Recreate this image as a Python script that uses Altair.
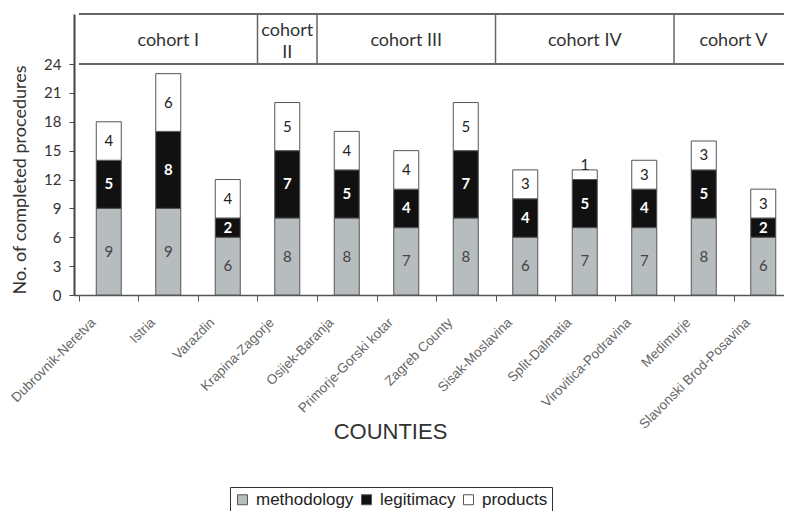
import altair as alt
import pandas as pd

# ---- data ----
counties = ["Dubrovnik-Neretva", "Istria", "Varazdin", "Krapina-Zagorje",
            "Osijek-Baranja", "Primorje-Gorski kotar", "Zagreb County",
            "Sisak-Moslavina", "Split-Dalmatia", "Virovitica-Podravina",
            "Medimurje", "Slavonski Brod-Posavina"]
methodology = [9, 9, 6, 8, 8, 7, 8, 6, 7, 7, 8, 6]
legitimacy = [5, 8, 2, 7, 5, 4, 7, 4, 5, 4, 5, 2]
products = [4, 6, 4, 5, 4, 4, 5, 3, 1, 3, 3, 3]
series = ["methodology", "legitimacy", "products"]
series_colors = ["#b7bcbf", "#111111", "#ffffff"]
cohorts = ["cohort I", "cohort\nII", "cohort III", "cohort IV", "cohort V"]
cohort_sizes = [3, 1, 3, 3, 2]
y_ticks = [0, 3, 6, 9, 12, 15, 18, 21, 24]

# ---- tables built from the arrays ----
rows = []
for i, c in enumerate(counties):
    base = 0
    for s, vals in zip(series, [methodology, legitimacy, products]):
        v = vals[i]
        top = base + v
        ly = (base + top) / 2 if v >= 2 else top + 0.55
        rows.append({"county": c, "pos": i + 0.5, "series": s, "value": v,
                     "y0": base, "y1": top, "ly": ly})
        base = top
df = pd.DataFrame(rows)

hrows = []
start = 0
for name, n in zip(cohorts, cohort_sizes):
    hrows.append({"cohort": name, "s": start, "e": start + n, "m": start + n / 2,
                  "lines": name.count("\n") + 1})
    start += n
hdr = pd.DataFrame(hrows)

PAD_L = 66
VIEW_W = 710      # visible plot width (rest of the last band is cut off, as in the source)
RANGE_W = 724     # full width of the 12 bands
H = 281
YTOP = 29.2
n_c = len(counties)

yscale = alt.Scale(domain=[0, YTOP], nice=False, zero=True)
xscale = alt.Scale(domain=[0, n_c], range=[0, RANGE_W], nice=False, zero=False)

names_js = "[" + ",".join("'" + c + "'" for c in counties) + "]"
label_expr = "datum.value < %d ? %s[datum.value] : ''" % (n_c, names_js)

x_axis = alt.Axis(title="COUNTIES", values=list(range(n_c + 1)), labelExpr=label_expr,
                  labelAngle=-45, labelAlign="right", labelBaseline="middle",
                  labelFont="Liberation Sans", labelFontSize=13.5, labelColor="#666666",
                  labelPadding=19, labelOffset=14, labelFlush=False, labelOverlap=False,
                  tickCount=20, tickSize=6, tickColor="#555555", domainColor="#555555",
                  domainWidth=1.5, grid=False,
                  titleFont="Liberation Sans", titleFontSize=22,
                  titleFontWeight="normal", titleColor="#333333",
                  titleX=316, titleY=136, titleBaseline="middle", titleAlign="center")

y_axis = alt.Axis(values=y_ticks, tickCount=9, title="No. of completed procedures",
                  titleFont="Lato", titleFontSize=18, titleFontWeight="normal",
                  titleColor="#333333", titleY=165.5, titleX=-54,
                  titleBaseline="middle", titleAlign="center", titleAngle=270,
                  labelFont="Lato", labelFontSize=15, labelColor="#333333",
                  labelPadding=8, labelOverlap=False, tickSize=5, tickColor="#444444",
                  domainColor="#444444", domainWidth=2, grid=False)

bars = alt.Chart(df).mark_bar(width=25, stroke="#555555", strokeWidth=1).encode(
    x=alt.X("pos:Q", scale=xscale, axis=x_axis),
    y=alt.Y("y0:Q", scale=yscale, axis=y_axis),
    y2="y1:Q",
    fill=alt.Fill("series:N", scale=alt.Scale(domain=series, range=series_colors),
                  legend=alt.Legend(title=None, orient="none", legendX=156, legendY=473,
                                    direction="horizontal", symbolType="square",
                                    symbolSize=100, symbolStrokeColor="#555555",
                                    symbolStrokeWidth=1, labelFont="Liberation Sans",
                                    labelFontSize=17, labelColor="#222222",
                                    labelOffset=5, columnPadding=4, padding=4,
                                    strokeColor="#333333")),
)


def seg_text(sname, color, weight):
    return alt.Chart(df).transform_filter(alt.datum.series == sname).mark_text(
        font="Lato", fontSize=15, color=color, fontWeight=weight, baseline="middle"
    ).encode(
        x=alt.X("pos:Q", scale=xscale),
        y=alt.Y("ly:Q", scale=yscale),
        text="value:Q",
    )


t_m = seg_text("methodology", "#444444", "normal")
t_l = seg_text("legitimacy", "#ffffff", "bold")
t_p = seg_text("products", "#222222", "normal")

# header frame: top and bottom lines across, dividers between cohorts
hline_top = alt.Chart(hdr).mark_rule(color="#666666", strokeWidth=1.5).encode(
    x=alt.datum(0, scale=xscale), x2=alt.datum(n_c),
    y=alt.datum(YTOP, scale=yscale),
)
hline_bot = alt.Chart(hdr).mark_rule(color="#666666", strokeWidth=1.5).encode(
    x=alt.datum(0, scale=xscale), x2=alt.datum(n_c),
    y=alt.datum(24, scale=yscale),
)
hdiv = alt.Chart(hdr).transform_filter(alt.datum.s > 0).mark_rule(
    color="#666666", strokeWidth=1.5).encode(
    x=alt.X("s:Q", scale=xscale),
    y=alt.datum(24, scale=yscale),
    y2=alt.datum(YTOP),
)


def head_text(nlines, dy):
    return alt.Chart(hdr).transform_filter(alt.datum.lines == nlines).mark_text(
        font="Lato", fontSize=18, color="#333333", lineBreak="\n", lineHeight=22,
        baseline="middle", dy=dy
    ).encode(
        x=alt.X("m:Q", scale=xscale),
        y=alt.datum((24 + YTOP) / 2, scale=yscale),
        text="cohort:N",
    )


h1 = head_text(1, 2)
h2 = head_text(2, -8)

chart = alt.layer(bars, t_m, t_l, t_p, hline_top, hline_bot, hdiv, h1, h2).properties(
    width=VIEW_W, height=H,
    autosize=alt.AutoSizeParams(type="none"),
    padding={"left": PAD_L, "top": 6, "right": 0, "bottom": 220},
    background="white",
).configure_view(stroke=None)

chart.save("out.html", embed_options={"renderer": "svg", "actions": False})
